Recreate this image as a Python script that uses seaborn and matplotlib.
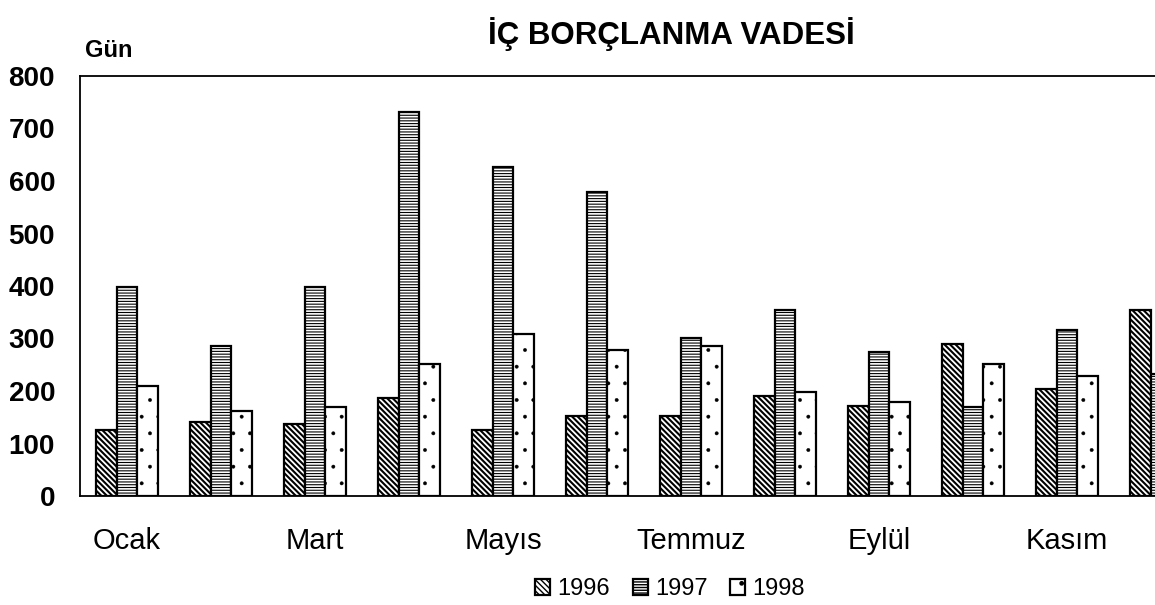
import matplotlib
matplotlib.use("Agg")
import matplotlib.pyplot as plt
import seaborn as sns
import pandas as pd
import numpy as np

# ---- data ----
months = ["Ocak", "Şubat", "Mart", "Nisan", "Mayıs", "Haziran",
          "Temmuz", "Ağustos", "Eylül", "Ekim", "Kasım", "Aralık"]
years = ["1996", "1997", "1998"]
v1996 = [126, 141, 138, 187, 126, 152, 153, 190, 171, 290, 203, 354]
v1997 = [398, 286, 398, 732, 626, 580, 301, 354, 275, 169, 316, 232]
v1998 = [210, 161, 169, 251, 309, 279, 286, 198, 179, 251, 229, 240]
xtick_labels = ["Ocak", "Mart", "Mayıs", "Temmuz", "Eylül", "Kasım"]
ytick_values = [0, 100, 200, 300, 400, 500, 600, 700, 800]

df = pd.DataFrame({
    "Ay": months * 3,
    "Yıl": [years[0]] * 12 + [years[1]] * 12 + [years[2]] * 12,
    "Gün": v1996 + v1997 + v1998,
})

sns.set_style("white")
plt.rcParams["font.family"] = ["Liberation Sans", "DejaVu Sans"]
plt.rcParams["hatch.color"] = "black"
plt.rcParams["text.color"] = "black"
plt.rcParams["xtick.color"] = "black"
plt.rcParams["ytick.color"] = "black"
plt.rcParams["axes.labelcolor"] = "black"

W, H = 1155, 605
fig = plt.figure(figsize=(W / 100, H / 100), dpi=100)
ax = fig.add_axes([80 / W, 1 - 496 / H, 1128 / W, 420 / H])

sns.barplot(data=df, x="Ay", y="Gün", hue="Yıl", order=months, hue_order=years,
            palette=["white"] * 3, saturation=1, width=0.67, gap=0,
            edgecolor="black", linewidth=1.6, errorbar=None, ax=ax, legend=False)

hatches = ["\\\\\\\\\\\\", "------", "."]
hlw = [1.5, 0.8, 0.3]
for cont, h, lw in zip(ax.containers, hatches, hlw):
    for bar in cont:
        bar.set_hatch(h)
        if hasattr(bar, "set_hatch_linewidth"):
            bar.set_hatch_linewidth(lw)

ax.set_ylim(0, 800)
ax.set_xlim(-0.5, 11.5)
ax.set_yticks(ytick_values)
ax.set_yticklabels([str(v) for v in ytick_values], fontsize=20, fontweight="bold")
ax.set_xticks(range(0, 12, 2))
ax.set_xticklabels(xtick_labels, fontsize=21)
ax.set_xticks(np.arange(-0.5, 12, 1), minor=True)
ax.tick_params(axis="x", which="major", length=0, pad=22)
ax.tick_params(axis="x", which="minor", length=6, width=1.2, direction="out", color="black")
ax.tick_params(axis="y", which="major", length=6, width=1.2, direction="out", color="black", pad=12)
ax.set_xlabel("")
ax.set_ylabel("")
for side in ["left", "bottom", "top"]:
    ax.spines[side].set_visible(True)
    ax.spines[side].set_color("black")
    ax.spines[side].set_linewidth(1.3)
ax.spines["right"].set_visible(False)

fig.text(671 / W, 1 - 44 / H, "İÇ BORÇLANMA VADESİ", ha="center", va="baseline",
         fontsize=22.5, fontweight="bold")
fig.text(85 / W, 1 - 57 / H, "Gün", ha="left", va="baseline", fontsize=17, fontweight="bold")

handles = list(ax.containers)
fig.legend(handles, years, loc="center", bbox_to_anchor=(670 / W, 1 - 589 / H), ncol=3,
           frameon=False, fontsize=17, handlelength=0.65, handleheight=0.65,
           handletextpad=0.3, columnspacing=0.95, borderpad=0)

fig.savefig("out.png", dpi=100)
